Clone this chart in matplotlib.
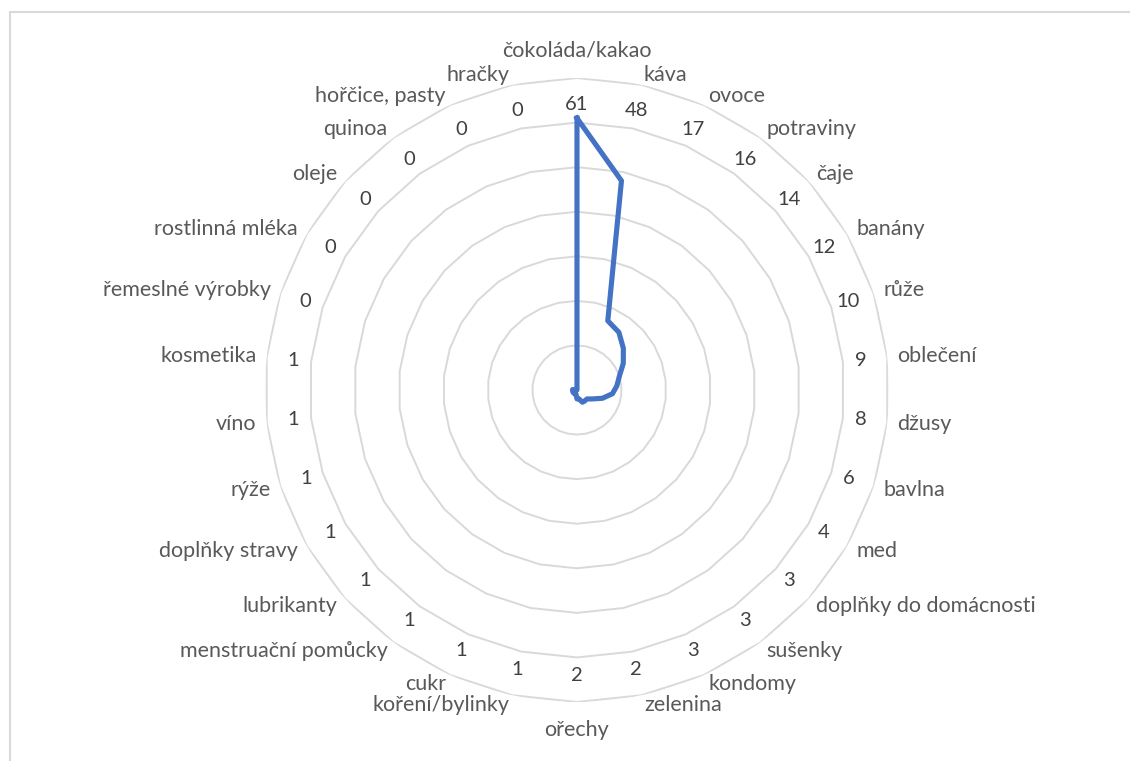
import numpy as np
import matplotlib.pyplot as plt
from matplotlib.patches import Rectangle

categories = [
    "čokoláda/kakao", "káva", "ovoce", "potraviny", "čaje", "banány", "růže",
    "oblečení", "džusy", "bavlna", "med", "doplňky do domácnosti", "sušenky",
    "kondomy", "zelenina", "ořechy", "koření/bylinky", "cukr",
    "menstruační pomůcky", "lubrikanty", "doplňky stravy", "rýže", "víno",
    "kosmetika", "řemeslné výrobky", "rostlinná mléka", "oleje", "quinoa",
    "hořčice, pasty", "hračky",
]
values = [61, 48, 17, 16, 14, 12, 10, 9, 8, 6, 4, 3, 3, 3, 2, 2, 1, 1,
          1, 1, 1, 1, 1, 1, 0, 0, 0, 0, 0, 0]
grid_levels = [10, 20, 30, 40, 50, 60, 70]

plt.rcParams["font.family"] = ["Lato", "DejaVu Sans"]

fig = plt.figure(figsize=(11.3, 7.61), dpi=100)
ax = fig.add_axes([0.2345, 0.0775, 0.5522, 0.82], projection="polar")
ax.set_theta_zero_location("N")
ax.set_theta_direction(-1)
ax.set_ylim(0, 70)
ax.grid(False)
ax.set_xticks([])
ax.set_yticks([])
ax.spines["polar"].set_visible(False)
ax.patch.set_alpha(0)

n = len(categories)
theta = np.arange(n) * 2 * np.pi / n
theta_closed = np.append(theta, theta[0])

# polygon gridlines
for lvl in grid_levels:
    ax.plot(theta_closed, [lvl] * (n + 1), color="#D9D9D9", lw=1.4, zorder=1)

# data series
ax.plot(theta_closed, values + values[:1], color="#4472C4", lw=3.7,
        solid_joinstyle="round", zorder=3)

# value labels
for t, v in zip(theta, values):
    ax.text(t, 64, str(v), ha="center", va="center", fontsize=14.5,
            color="#404040")

# category labels
for t, name in zip(theta, categories):
    s = np.sin(t)
    if abs(s) < 0.05:
        ha, r = "center", 76.2
    elif s > 0:
        ha, r = "left", 72.3
    else:
        ha, r = "right", 72.3
    ax.text(t, r, name, ha=ha, va="center", fontsize=15.5, color="#595959",
            clip_on=False)

# chart area border
fig.patches.append(Rectangle((9.5 / 1130, -0.1), 1.2, 1.1 - 12 / 761,
                             transform=fig.transFigure, fill=False,
                             edgecolor="#D9D9D9", lw=1.5))

fig.savefig("out.png", dpi=100)
